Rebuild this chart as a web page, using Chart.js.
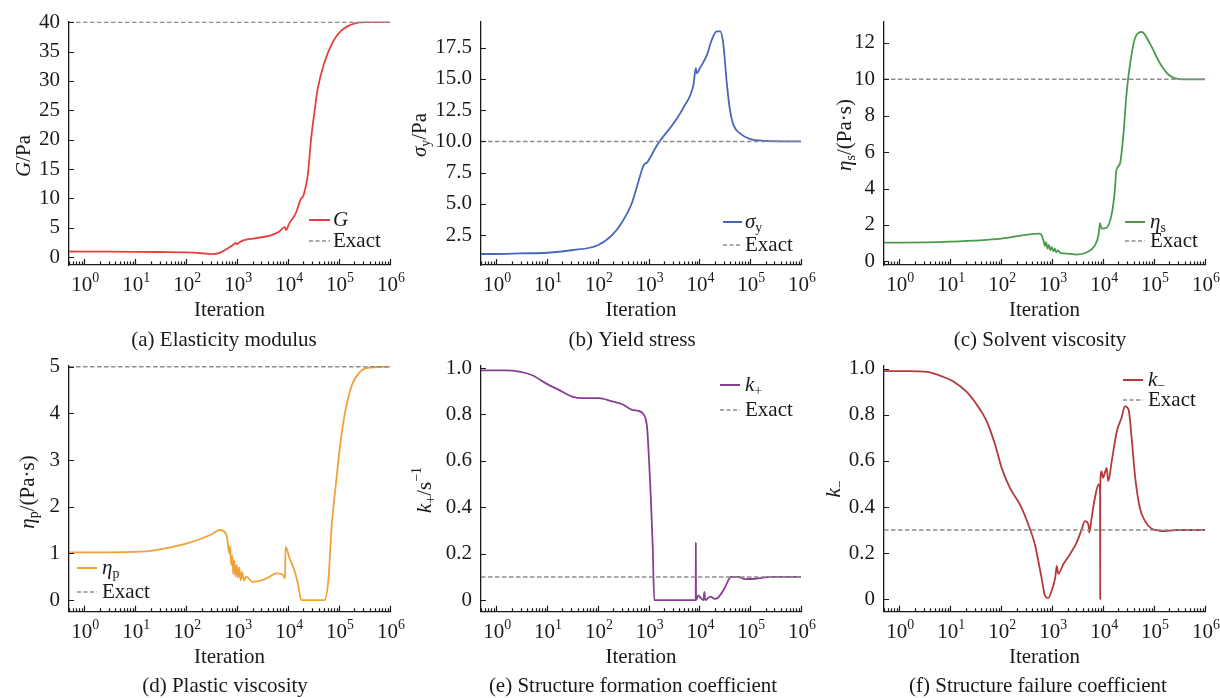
<!DOCTYPE html>
<html lang="en">
<head>
<meta charset="UTF-8">
<title>Identified rheological parameters vs iteration</title>
<script src="https://cdn.jsdelivr.net/npm/chart.js"></script>
<style>
body { margin: 0; background: #fff; }
#wrap { position: relative; width: 1220px; height: 698px; overflow: hidden; }
#wrap canvas { position: absolute; left: 0; top: 0; }
</style>
</head>
<body>
<div id="wrap">
    <canvas id="cA" width="1220" height="698"></canvas>
    <canvas id="cB" width="1220" height="698"></canvas>
    <canvas id="cC" width="1220" height="698"></canvas>
    <canvas id="cD" width="1220" height="698"></canvas>
    <canvas id="cE" width="1220" height="698"></canvas>
    <canvas id="cF" width="1220" height="698"></canvas>
</div>

<script>
// x axis (shared): decades and their exponent labels (10^n)
const xDecades = [1, 10, 100, 1e3, 1e4, 1e5, 1e6];
const xTickExp = ['0', '1', '2', '3', '4', '5', '6'];

// (a) elasticity modulus G
const iterG = [0.5, 3, 10, 30, 100, 200, 330, 450, 600, 810, 930, 1000, 1100, 1380, 2200, 4600, 6600, 8600, 9100, 10500, 14000, 17800, 20000, 24500, 28000, 33000, 38000, 51000, 76000, 112000, 204000, 350000, 1e6];
const valG = [0.95, 0.93, 0.9, 0.86, 0.8, 0.65, 0.5, 0.7, 1.3, 2.0, 2.4, 2.2, 2.5, 2.9, 3.2, 3.7, 4.3, 5.1, 4.6, 5.7, 7.4, 9.9, 10.5, 14.2, 19.8, 24.8, 28.6, 33, 36.7, 38.6, 39.8, 40, 40];
const exactG = 40;
const yTicksG = [0, 5, 10, 15, 20, 25, 30, 35, 40];
const yLabelsG = ['0', '5', '10', '15', '20', '25', '30', '35', '40'];

// (b) yield stress sigma_y
const iterS = [0.5, 1, 3, 10, 30, 100, 190, 295, 470, 630, 800, 950, 1000, 1550, 3100, 4900, 7600, 8500, 8900, 10200, 14000, 17400, 21900, 25700, 29500, 34700, 40000, 47000, 63000, 98000, 195000, 1e6];
const valS = [1.0, 1.0, 1.05, 1.1, 1.3, 1.7, 2.5, 3.5, 5.1, 6.8, 8.1, 8.35, 8.5, 9.85, 11.45, 12.75, 14.5, 15.85, 15.45, 15.85, 16.9, 18.1, 18.8, 18.8, 17.8, 14.6, 12.5, 11.3, 10.65, 10.2, 10.05, 10.0];
const exactS = 10;
const yTicksS = [2.5, 5, 7.5, 10, 12.5, 15, 17.5];
const yLabelsS = ['2.5', '5.0', '7.5', '10.0', '12.5', '15.0', '17.5'];

// (c) solvent viscosity eta_s
const iterEs = [0.5, 1, 10, 100, 300, 575, 630, 680, 720, 760, 810, 860, 920, 980, 1050, 1120, 1200, 1300, 1450, 2100, 3000, 4800, 6900, 8100, 8700, 9300, 11700, 14800, 17000, 18200, 21400, 25100, 28800, 33900, 42700, 57500, 83000, 132000, 204000, 380000, 1e6];
const valEs = [1.03, 1.03, 1.08, 1.25, 1.45, 1.52, 1.4, 1.1, 0.85, 1.05, 0.7, 0.9, 0.6, 0.8, 0.55, 0.7, 0.5, 0.6, 0.45, 0.42, 0.37, 0.5, 0.88, 1.43, 2.1, 1.8, 1.85, 2.62, 3.9, 5.0, 5.37, 7.0, 9.2, 10.86, 12.3, 12.6, 11.96, 10.86, 10.2, 10.0, 10.0];
const exactEs = 10;
const yTicksEs = [0, 2, 4, 6, 8, 10, 12];
const yLabelsEs = ['0', '2', '4', '6', '8', '10', '12'];

// (d) plastic viscosity eta_p
const iterEp = [0.5, 1, 10, 100, 320, 450, 620, 700, 730, 760, 800, 840, 880, 930, 980, 1040, 1100, 1170, 1250, 1350, 1500, 2000, 3700, 5900, 7900, 8700, 8900, 10700, 13500, 15800, 18200, 52000, 62000, 71000, 89000, 105000, 132000, 178000, 257000, 407000, 1e6];
const valEp = [1.02, 1.02, 1.03, 1.21, 1.41, 1.5, 1.39, 1.0, 1.15, 0.75, 0.95, 0.55, 0.85, 0.5, 0.75, 0.48, 0.7, 0.42, 0.6, 0.42, 0.5, 0.39, 0.46, 0.57, 0.54, 0.46, 1.14, 0.89, 0.61, 0.32, 0.0, 0.0, 0.46, 1.53, 2.6, 3.32, 4.03, 4.6, 4.89, 4.98, 5.0];
const exactEp = 5;
const yTicksEp = [0, 1, 2, 3, 4, 5];
const yLabelsEp = ['0', '1', '2', '3', '4', '5'];

// (e) structure formation coefficient k+
const iterKp = [0.5, 1.5, 5, 9.3, 17, 31, 49, 105, 190, 295, 470, 630, 795, 935, 1020, 1100, 1200, 1290, 8450, 8500, 8560, 9500, 10500, 12000, 12500, 13000, 15000, 16500, 20000, 23000, 31000, 42000, 57000, 80000, 125000, 260000, 1e6];
const valKp = [0.99, 0.99, 0.97, 0.935, 0.906, 0.877, 0.87, 0.87, 0.856, 0.845, 0.82, 0.815, 0.8, 0.74, 0.6, 0.45, 0.24, 0.0, 0.0, 0.25, 0.0, 0.02, 0.01, 0.0, 0.035, 0.0, 0.01, 0.015, 0.005, 0.01, 0.05, 0.1, 0.1, 0.09, 0.092, 0.1, 0.1];
const exactKp = 0.1;
const yTicksK = [0, 0.2, 0.4, 0.6, 0.8, 1.0];
const yLabelsK = ['0', '0.2', '0.4', '0.6', '0.8', '1.0'];

// (f) structure failure coefficient k-
const iterKm = [0.5, 1.6, 3.5, 7.2, 11.5, 21, 33, 52, 76, 102, 148, 234, 339, 457, 617, 724, 832, 977, 1150, 1230, 1320, 1660, 2240, 3020, 3800, 4370, 5130, 5370, 5890, 6920, 8130, 8710, 8760, 8800, 9330, 10000, 11750, 12600, 14800, 18600, 22900, 26900, 31600, 36300, 42700, 52500, 66100, 89100, 112000, 151000, 275000, 1e6];
const valKm = [0.99, 0.99, 0.987, 0.966, 0.945, 0.9, 0.845, 0.772, 0.67, 0.57, 0.483, 0.41, 0.325, 0.238, 0.094, 0.014, 0.004, 0.036, 0.094, 0.144, 0.11, 0.152, 0.195, 0.245, 0.303, 0.339, 0.325, 0.289, 0.346, 0.44, 0.498, 0.469, 0.0, 0.5, 0.555, 0.527, 0.57, 0.512, 0.6, 0.729, 0.787, 0.837, 0.823, 0.7, 0.527, 0.397, 0.34, 0.306, 0.3, 0.295, 0.3, 0.3];
const exactKm = 0.3;

const FONT = '"Liberation Serif", "Times New Roman", serif';
const INK = '#1a1a1a';
const X_MIN = 0.5, X_MAX = 1e6;
const Y_AXIS_W = 60, X_AXIS_H = 58;

Chart.defaults.font.family = FONT;
Chart.defaults.font.size = 21;
Chart.defaults.color = INK;

// one entry per subplot: page-space layout + which arrays to draw
const panels = [
    { id: 'cA', xs: iterG, ys: valG, exact: exactG, color: '#e5403d', yMin: -1.35, yMax: 40.1, yTicks: yTicksG, yLabels: yLabelsG,
      area: [69, 20.5, 390, 265], yTitle: [24, 156], yParts: [{t: 'G', i: 1}, {t: '/Pa'}],
      leg: [309, 330, 333, 220, 241], caption: '(a) Elasticity modulus', cap: [224, 340.5] },
    { id: 'cB', xs: iterS, ys: valS, exact: exactS, color: '#4767bb', yMin: 0.12, yMax: 19.55, yTicks: yTicksS, yLabels: yLabelsS,
      area: [481, 22, 801, 265], yTitle: [420, 135], yParts: [{t: 'σ', i: 1}, {t: 'y', sub: 1}, {t: '/Pa'}],
      leg: [723, 742, 745, 222, 245], caption: '(b) Yield stress', cap: [632, 340.5] },
    { id: 'cC', xs: iterEs, ys: valEs, exact: exactEs, color: '#4b9a4b', yMin: -0.2, yMax: 13.15, yTicks: yTicksEs, yLabels: yLabelsEs,
      area: [884, 22, 1205, 265], yTitle: [845, 135], yParts: [{t: 'η', i: 1}, {t: 's', sub: 1}, {t: '/(Pa·s)'}],
      leg: [1125, 1145, 1150, 222, 241], caption: '(c) Solvent viscosity', cap: [1040, 340.5] },
    { id: 'cD', xs: iterEp, ys: valEp, exact: exactEp, color: '#f2a03a', yMin: -0.25, yMax: 5.02, yTicks: yTicksEp, yLabels: yLabelsEp,
      area: [69, 365.7, 390, 611.7], yTitle: [28, 492], yParts: [{t: 'η', i: 1}, {t: 'p', sub: 1}, {t: '/(Pa·s)'}],
      leg: [77, 97, 102, 568, 592], caption: '(d) Plastic viscosity', cap: [225, 686] },
    { id: 'cE', xs: iterKp, ys: valKp, exact: exactKp, color: '#883e92', yMin: -0.05, yMax: 1.01, yTicks: yTicksK, yLabels: yLabelsK,
      area: [481, 365.7, 801, 611.7], yTitle: [425, 490], yParts: [{t: 'k', i: 1}, {t: '+', sub: 1}, {t: '/s'}, {t: '−1', sup: 1}],
      leg: [720, 740, 745, 385, 410], caption: '(e) Structure formation coefficient', cap: [633, 686] },
    { id: 'cF', xs: iterKm, ys: valKm, exact: exactKm, color: '#b23a3a', yMin: -0.055, yMax: 1.014, yTicks: yTicksK, yLabels: yLabelsK,
      area: [884, 365.7, 1205, 611.7], yTitle: [834, 489], yParts: [{t: 'k', i: 1}, {t: '−', sub: 1}],
      leg: [1123, 1143, 1148, 380, 400], caption: '(f) Structure failure coefficient', cap: [1038, 686] }
];

function pts(xs, ys) {
    return xs.map((x, i) => ({ x: x, y: ys[i] }));
}

// draws text made of pieces (italic symbols, sub/superscripts), vertically centred on y
function drawRich(ctx, parts, x, y, size, align) {
    let total = 0;
    const items = parts.map(p => {
        const small = p.sub || p.sup;
        const sz = small ? size * 0.66 : size;
        const font = (p.i ? 'italic ' : '') + sz + 'px ' + FONT;
        ctx.font = font;
        const w = ctx.measureText(p.t).width;
        total += w;
        return { t: p.t, font: font, w: w, dy: p.sub ? size * 0.3 : (p.sup ? -size * 0.34 : 0) };
    });
    let cx = align === 'center' ? x - total / 2 : x;
    ctx.textAlign = 'left';
    ctx.textBaseline = 'middle';
    items.forEach(it => {
        ctx.font = it.font;
        ctx.fillText(it.t, cx, y + it.dy);
        cx += it.w;
    });
}

function decor(p) {
    return {
        id: 'decor',
        afterDraw(chart) {
            const ctx = chart.ctx;
            const a = chart.chartArea;
            const sx = chart.scales.x;
            const sy = chart.scales.y;
            ctx.save();

            // inward tick marks
            ctx.strokeStyle = INK;
            ctx.lineWidth = 1.2;
            ctx.beginPath();
            [0.1].concat(xDecades).forEach(d => {
                for (let m = 1; m < 10; m++) {
                    const v = d * m;
                    if (v < X_MIN - 1e-9 || v > X_MAX * 1.0001) continue;
                    const px = Math.round(sx.getPixelForValue(v)) + 0.5;
                    const len = m === 1 ? 6 : 3.5;
                    ctx.moveTo(px, a.bottom);
                    ctx.lineTo(px, a.bottom - len);
                }
            });
            p.yTicks.forEach(v => {
                const py = Math.round(sy.getPixelForValue(v)) + 0.5;
                ctx.moveTo(a.left, py);
                ctx.lineTo(a.left + 5, py);
            });
            ctx.stroke();

            ctx.fillStyle = INK;

            // x tick labels 10^n, placed by the log scale
            xDecades.forEach((v, i) => {
                drawRich(ctx, [{t: '10'}, {t: xTickExp[i], sup: 1}], sx.getPixelForValue(v) + 1, a.bottom + 20.5, 21, 'center');
            });

            // rotated y title
            ctx.save();
            ctx.translate(p.yTitle[0], p.yTitle[1]);
            ctx.rotate(-Math.PI / 2);
            drawRich(ctx, p.yParts, 0, 0, 21, 'center');
            ctx.restore();

            // legend
            const [x1, x2, tx, r1, r2] = p.leg;
            ctx.strokeStyle = p.color;
            ctx.lineWidth = 2;
            ctx.beginPath();
            ctx.moveTo(x1, r1);
            ctx.lineTo(x2, r1);
            ctx.stroke();
            ctx.strokeStyle = '#8d8d8d';
            ctx.lineWidth = 1.5;
            ctx.setLineDash([4, 2.5]);
            ctx.beginPath();
            ctx.moveTo(x1, r2);
            ctx.lineTo(x2, r2);
            ctx.stroke();
            ctx.setLineDash([]);
            const symbol = p.yParts.filter(q => q.i || q.sub);
            drawRich(ctx, symbol, tx, r1, 21, 'left');
            drawRich(ctx, [{t: 'Exact'}], tx, r2, 21, 'left');

            // caption
            ctx.font = '21px ' + FONT;
            ctx.textAlign = 'center';
            ctx.textBaseline = 'middle';
            ctx.fillText(p.caption, p.cap[0], p.cap[1]);

            ctx.restore();
        }
    };
}

function makePanel(p) {
    const [left, top, right, bottom] = p.area;
    new Chart(document.getElementById(p.id), {
        type: 'line',
        data: {
            datasets: [
                {
                    data: pts(p.xs, p.ys),
                    borderColor: p.color,
                    borderWidth: 1.8,
                    pointRadius: 0,
                    cubicInterpolationMode: 'monotone',
                    order: 1
                },
                {
                    data: [{ x: X_MIN, y: p.exact }, { x: X_MAX, y: p.exact }],
                    borderColor: '#8d8d8d',
                    borderWidth: 1.5,
                    borderDash: [4.5, 2.5],
                    pointRadius: 0,
                    order: 0
                }
            ]
        },
        options: {
            responsive: false,
            animation: false,
            events: [],
            layout: {
                padding: { left: left - Y_AXIS_W, top: top, right: 1220 - right, bottom: 698 - bottom - X_AXIS_H }
            },
            scales: {
                x: {
                    type: 'logarithmic',
                    min: X_MIN,
                    max: X_MAX,
                    grid: { display: false, drawTicks: false },
                    border: { display: true, color: INK, width: 1.3 },
                    ticks: { display: false },
                    title: { display: true, text: 'Iteration', padding: 0, font: { size: 21 } },
                    afterBuildTicks: s => { s.ticks = xDecades.map(v => ({ value: v })); },
                    afterFit: s => { s.height = X_AXIS_H; }
                },
                y: {
                    type: 'linear',
                    min: p.yMin,
                    max: p.yMax,
                    grid: { display: false, drawTicks: false },
                    border: { display: true, color: INK, width: 1.3 },
                    ticks: {
                        padding: 9,
                        font: { size: 21 },
                        callback: (v, i) => p.yLabels[i]
                    },
                    afterBuildTicks: s => { s.ticks = p.yTicks.map(v => ({ value: v })); },
                    afterFit: s => { s.width = Y_AXIS_W; }
                }
            },
            plugins: {
                legend: { display: false },
                tooltip: { enabled: false }
            }
        },
        plugins: [decor(p)]
    });
}

panels.forEach(makePanel);
</script>
</body>
</html>
